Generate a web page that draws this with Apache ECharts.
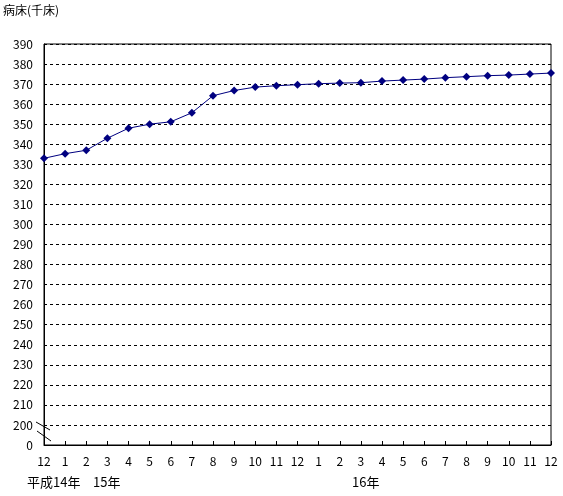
<!DOCTYPE html>
<html><head><meta charset="utf-8">
<script src="https://cdn.jsdelivr.net/npm/echarts@6/dist/echarts.min.js"></script>
<style>html,body{margin:0;padding:0;background:#fff}#c{width:563px;height:496px}</style>
</head><body><div id="c"></div>
<script>
const months = ['12','1','2','3','4','5','6','7','8','9','10','11','12','1','2','3','4','5','6','7','8','9','10','11','12'];
const beds = [333.0,335.3,337.0,343.0,348.0,350.0,351.2,355.7,364.2,366.8,368.5,369.2,369.7,370.2,370.5,370.7,371.5,372.0,372.5,373.2,373.7,374.2,374.5,375.0,375.5];
const yearLabels = [{text:'平成14年', x:27}, {text:'15年', x:93}, {text:'16年', x:352}];
const unitLabel = '病床(千床)';
const FONT = '"Noto Sans CJK JP", sans-serif';
const chart = echarts.init(document.getElementById('c'));
chart.setOption({
  animation:false,
  backgroundColor:'#fff',
  grid:{left:44,right:12,top:44,bottom:51,show:true,borderColor:'#000',borderWidth:1,backgroundColor:'transparent'},
  xAxis:{type:'category',data:months,boundaryGap:false,
    axisLine:{lineStyle:{color:'#000',width:1}},
    axisTick:{inside:true,length:4,lineStyle:{color:'#000'}},
    axisLabel:{color:'#000',fontSize:12,fontFamily:FONT,margin:10,interval:0},
    splitLine:{show:false}},
  yAxis:{type:'value',min:190,max:390,interval:10,
    axisLine:{show:true,lineStyle:{color:'#000',width:1}},
    axisTick:{show:false},
    axisLabel:{color:'#000',fontSize:12,fontFamily:FONT,margin:11,formatter:v=>v===190?'0':String(v)},
    splitLine:{show:true,lineStyle:{color:'#000',type:[3,3],width:1}}},
  series:[{type:'line',data:beds,symbol:'diamond',symbolSize:8,
    lineStyle:{color:'#000080',width:1},itemStyle:{color:'#000080'}}],
  graphic:[
    {type:'text',left:3,top:4,style:{text:unitLabel,fill:'#000',font:'12px '+FONT}},
    ...yearLabels.map(l=>({type:'text',left:l.x,top:476,style:{text:l.text,fill:'#000',font:'13px '+FONT}})),
    {type:'line',shape:{x1:36,y1:422,x2:50,y2:430},style:{stroke:'#000',lineWidth:1}},
    {type:'line',shape:{x1:37,y1:431,x2:51,y2:441},style:{stroke:'#000',lineWidth:1}}
  ]
});
</script></body></html>
